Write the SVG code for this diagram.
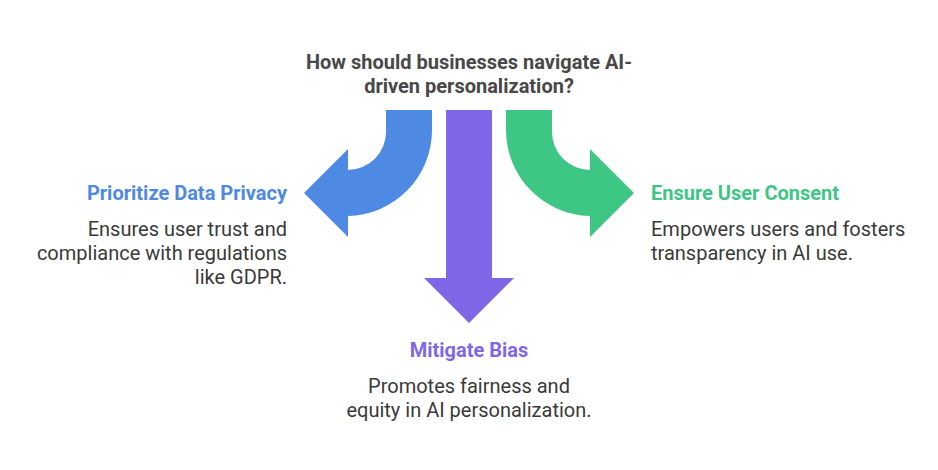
<svg xmlns="http://www.w3.org/2000/svg" width="938" height="470" viewBox="0 0 938 470">
<style>
text{font-family:Roboto,"Liberation Sans",sans-serif;font-size:20px}
.t{font-weight:bold;fill:#484848}
.h{font-weight:bold}
.b{fill:#3a3a3a}
</style>
<rect width="938" height="470" fill="#fff"/>
<g id="connectors">
<path id="arrow-blue" d="M386 110 H432 V130 A86 86 0 0 1 348 216 V237 L304 193 L348 149 V170 A38 38 0 0 0 386 132 Z" fill="#4e89e4"/>
<path id="arrow-purple" d="M446 110 H492 V278 H514 L469 323 L424 278 H446 Z" fill="#7f67e7"/>
<path id="arrow-green" d="M552 110 H506 V130 A86 86 0 0 0 590 216 V237 L634 193 L590 149 V170 A38 38 0 0 1 552 132 Z" fill="#3ec685"/>
</g>
<g id="title"><text class="t" x="469" y="69" text-anchor="middle">How should businesses navigate AI-</text><text class="t" x="469" y="93" text-anchor="middle">driven personalization?</text></g>
<g id="node-privacy" text-anchor="end">
<text class="h" x="287" y="200" fill="#4e89e4">Prioritize Data Privacy</text>
<text class="b" x="287" y="236">Ensures user trust and</text>
<text class="b" x="287" y="260">compliance with regulations</text>
<text class="b" x="287" y="284">like GDPR.</text>
</g>
<g id="node-bias" text-anchor="middle">
<text class="h" x="469" y="357" fill="#7f67e7">Mitigate Bias</text>
<text class="b" x="469" y="393">Promotes fairness and</text>
<text class="b" x="469" y="417">equity in AI personalization.</text>
</g>
<g id="node-consent">
<text class="h" x="651" y="200" fill="#3ec685">Ensure User Consent</text>
<text class="b" x="651" y="236">Empowers users and fosters</text>
<text class="b" x="651" y="260">transparency in AI use.</text>
</g>
</svg>
